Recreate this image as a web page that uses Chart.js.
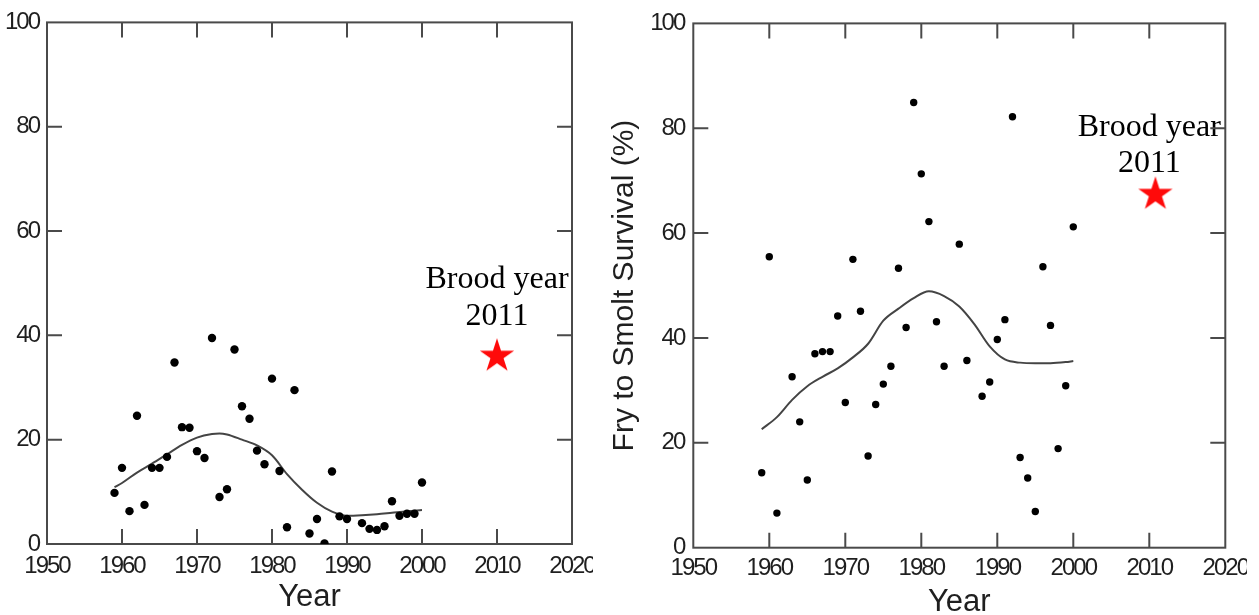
<!DOCTYPE html>
<html lang="en">
<head>
    <meta charset="UTF-8">
    <title>Fry to Smolt Survival</title>
    <script src="https://cdn.jsdelivr.net/npm/chart.js"></script>
    <style>
        body {
            margin: 0;
            background-color: #fff;
            width: 1259px;
            height: 615px;
            overflow: hidden;
            position: relative;
        }
        .panel {
            position: absolute;
            top: 0;
            height: 615px;
            overflow: hidden;
        }
        #leftPanel { left: 0; width: 593px; }
        #rightPanel { left: 600px; width: 647px; }
        .inner { position: relative; height: 615px; }
        #leftPanel .inner { width: 620px; }
        #rightPanel .inner { width: 659px; }
    </style>
</head>
<body>
    <div class="panel" id="leftPanel"><div class="inner"><canvas id="leftChart"></canvas></div></div>
    <div class="panel" id="rightPanel"><div class="inner"><canvas id="rightChart"></canvas></div></div>

    <script>
        // axes
        const xTicks = [1950, 1960, 1970, 1980, 1990, 2000, 2010, 2020];
        const yTicks = [0, 20, 40, 60, 80, 100];

        // left panel: observed points
        const leftYears = [1959, 1960, 1961, 1962, 1963, 1964, 1965, 1966, 1967, 1968,
            1969, 1970, 1971, 1972, 1973, 1974, 1975, 1976, 1977, 1978,
            1979, 1980, 1981, 1982, 1983, 1985, 1986, 1987, 1988, 1989,
            1990, 1992, 1993, 1994, 1995, 1996, 1997, 1998, 1999, 2000];
        const leftValues = [9.8, 14.6, 6.3, 24.6, 7.5, 14.6, 14.6, 16.7, 34.8, 22.4,
            22.3, 17.8, 16.5, 39.5, 9.0, 10.5, 37.3, 26.4, 24.0, 17.9,
            15.3, 31.7, 14.0, 3.2, 29.5, 2.0, 4.8, 0.1, 13.9, 5.3,
            4.8, 4.0, 2.9, 2.7, 3.4, 8.2, 5.4, 5.8, 5.8, 11.8];
        // left panel: smoothed trend
        const leftFitYears = [1959, 1960, 1962, 1964, 1966, 1968, 1970, 1972, 1973, 1974,
            1976, 1978, 1980, 1982, 1984, 1986, 1988, 1990, 1992, 1994, 1996, 1998, 2000];
        const leftFitValues = [10.9, 11.7, 13.7, 15.4, 17.2, 19.0, 20.4, 21.1, 21.2, 21.0,
            20.0, 18.9, 17.0, 13.4, 10.4, 7.9, 6.2, 5.4, 5.5, 5.7, 6.0, 6.3, 6.5];
        const leftBrood = [2010, 36];

        // right panel: observed points
        const rightYears = [1959, 1960, 1961, 1963, 1964, 1965, 1966, 1967, 1968, 1969,
            1970, 1971, 1972, 1973, 1974, 1975, 1976, 1977, 1978, 1979,
            1980, 1981, 1982, 1983, 1985, 1986, 1988, 1989, 1990, 1991,
            1992, 1993, 1994, 1995, 1996, 1997, 1998, 1999, 2000];
        const rightValues = [14.3, 55.5, 6.6, 32.6, 24.0, 12.9, 37.0, 37.4, 37.4, 44.2,
            27.7, 55.0, 45.1, 17.5, 27.3, 31.2, 34.6, 53.3, 42.0, 84.9,
            71.3, 62.2, 43.1, 34.6, 57.9, 35.7, 28.9, 31.6, 39.7, 43.5,
            82.2, 17.2, 13.3, 6.9, 53.6, 42.4, 18.9, 30.9, 61.2];
        // right panel: smoothed trend
        const rightFitYears = [1959, 1961, 1963, 1965, 1967, 1969, 1971, 1973, 1975, 1977,
            1979, 1981, 1983, 1985, 1987, 1989, 1991, 1993, 1995, 1997, 1999, 2000];
        const rightFitValues = [22.6, 24.9, 28.2, 30.8, 32.6, 34.2, 36.3, 38.9, 43.3, 45.6,
            47.6, 48.9, 48.0, 46.0, 42.6, 38.4, 35.9, 35.3, 35.2, 35.2, 35.4, 35.6];
        const rightBrood = [2010.8, 67.4];

        const axisColor = '#4a4a4a';
        const textColor = '#1f1f1f';
        const tickFont = { family: '"Liberation Sans", Arial, sans-serif', size: 24 };
        const titleFont = { family: '"Liberation Sans", Arial, sans-serif', size: 31 };

        function toPoints(xs, ys) {
            return xs.map((x, i) => ({ x: x, y: ys[i] }));
        }

        // filled five-point star used as point image
        function makeStar(r, color) {
            const c = document.createElement('canvas');
            const s = Math.ceil(r * 2) + 2;
            c.width = s;
            c.height = s;
            const g = c.getContext('2d');
            g.fillStyle = color;
            g.beginPath();
            for (let i = 0; i < 10; i++) {
                const rad = i % 2 ? r * 0.382 : r;
                const ang = -Math.PI / 2 + i * Math.PI / 5;
                g.lineTo(s / 2 + rad * Math.cos(ang), s / 2 + rad * Math.sin(ang));
            }
            g.closePath();
            g.fill();
            return c;
        }

        // note text + boxed frame with inward tick marks;
        // tick labels (ticks.z = 1) are drawn after datasets with tighter letter spacing
        const framePlugin = {
            id: 'framePlugin',
            beforeDatasetsDraw(chart, args, opts) {
                const { ctx, chartArea: a, scales: { x, y } } = chart;
                ctx.save();
                ctx.fillStyle = '#000';
                ctx.font = '32px "Liberation Serif", "Times New Roman", serif';
                ctx.textAlign = 'center';
                ctx.textBaseline = 'alphabetic';
                opts.lines.forEach((line, i) => {
                    ctx.fillText(line, x.getPixelForValue(opts.x), y.getPixelForValue(opts.y[i]));
                });

                ctx.strokeStyle = axisColor;
                ctx.lineWidth = 2;
                ctx.strokeRect(a.left, a.top, a.right - a.left, a.bottom - a.top);
                ctx.beginPath();
                x.ticks.forEach(t => {
                    const px = x.getPixelForValue(t.value);
                    if (px <= a.left + 1 || px >= a.right - 1) return;
                    ctx.moveTo(px, a.bottom);
                    ctx.lineTo(px, a.bottom - 15);
                    ctx.moveTo(px, a.top);
                    ctx.lineTo(px, a.top + 15);
                });
                y.ticks.forEach(t => {
                    const py = y.getPixelForValue(t.value);
                    if (py <= a.top + 1 || py >= a.bottom - 1) return;
                    ctx.moveTo(a.left, py);
                    ctx.lineTo(a.left + 15, py);
                    ctx.moveTo(a.right, py);
                    ctx.lineTo(a.right - 15, py);
                });
                ctx.stroke();
                ctx.restore();
            },
            afterDatasetsDraw(chart) {
                chart.ctx.letterSpacing = '-2px';
            },
            afterDraw(chart) {
                chart.ctx.letterSpacing = '0px';
            }
        };

        function buildChart(id, o) {
            return new Chart(document.getElementById(id), {
                data: {
                    datasets: [{
                        type: 'line',
                        data: toPoints(o.fitYears, o.fitValues),
                        borderColor: '#444',
                        borderWidth: 2,
                        pointRadius: 0,
                        cubicInterpolationMode: 'monotone',
                        fill: false,
                        order: 2
                    }, {
                        type: 'scatter',
                        data: toPoints(o.years, o.values),
                        backgroundColor: '#000',
                        borderWidth: 0,
                        pointRadius: o.dotRadius,
                        order: 1
                    }, {
                        type: 'scatter',
                        data: [{ x: o.brood[0], y: o.brood[1] }],
                        pointStyle: makeStar(18, '#ff0a0a'),
                        pointRadius: 18,
                        order: 0
                    }]
                },
                options: {
                    responsive: true,
                    maintainAspectRatio: false,
                    animation: false,
                    events: [],
                    layout: { padding: { top: o.top, right: o.right, left: 0, bottom: 0 } },
                    plugins: {
                        legend: { display: false },
                        tooltip: { enabled: false },
                        framePlugin: { lines: ['Brood year', '2011'], x: o.noteX, y: o.noteY }
                    },
                    scales: {
                        x: {
                            type: 'linear',
                            min: xTicks[0],
                            max: xTicks[xTicks.length - 1],
                            afterBuildTicks: s => { s.ticks = xTicks.map(v => ({ value: v })); },
                            ticks: {
                                color: textColor,
                                font: tickFont,
                                padding: o.xPad,
                                maxRotation: 0,
                                autoSkip: false,
                                z: 1,
                                callback: v => String(v)
                            },
                            grid: { display: false, drawTicks: false },
                            border: { display: false },
                            title: {
                                display: true,
                                text: 'Year',
                                color: textColor,
                                font: titleFont,
                                padding: { top: 0, bottom: o.titlePad }
                            },
                            afterFit: s => { s.height = o.xHeight; }
                        },
                        y: {
                            type: 'linear',
                            min: yTicks[0],
                            max: yTicks[yTicks.length - 1],
                            afterBuildTicks: s => { s.ticks = yTicks.map(v => ({ value: v })); },
                            ticks: {
                                color: textColor,
                                font: tickFont,
                                padding: o.yPad,
                                z: 1,
                                callback: v => String(v)
                            },
                            grid: { display: false, drawTicks: false },
                            border: { display: false },
                            title: {
                                display: !!o.yTitle,
                                text: o.yTitle || '',
                                color: textColor,
                                font: { family: titleFont.family, size: 30 },
                                padding: { top: 7, bottom: 0 }
                            },
                            afterFit: s => { s.width = o.yWidth; }
                        }
                    }
                },
                plugins: [framePlugin]
            });
        }

        buildChart('leftChart', {
            years: leftYears, values: leftValues,
            fitYears: leftFitYears, fitValues: leftFitValues,
            brood: leftBrood,
            noteX: 2010, noteY: [49, 42],
            dotRadius: 4.2,
            top: 18, right: 48, xHeight: 71, yWidth: 47,
            xPad: 8, yPad: 8, titlePad: -1
        });

        buildChart('rightChart', {
            years: rightYears, values: rightValues,
            fitYears: rightFitYears, fitValues: rightFitValues,
            brood: rightBrood,
            noteX: 2010, noteY: [78.6, 71.6],
            dotRadius: 3.7,
            yTitle: 'Fry to Smolt Survival (%)',
            top: 17.5, right: 33.7, xHeight: 67.3, yWidth: 93.3,
            xPad: 6, yPad: 9, titlePad: -6
        });
    </script>
</body>
</html>
